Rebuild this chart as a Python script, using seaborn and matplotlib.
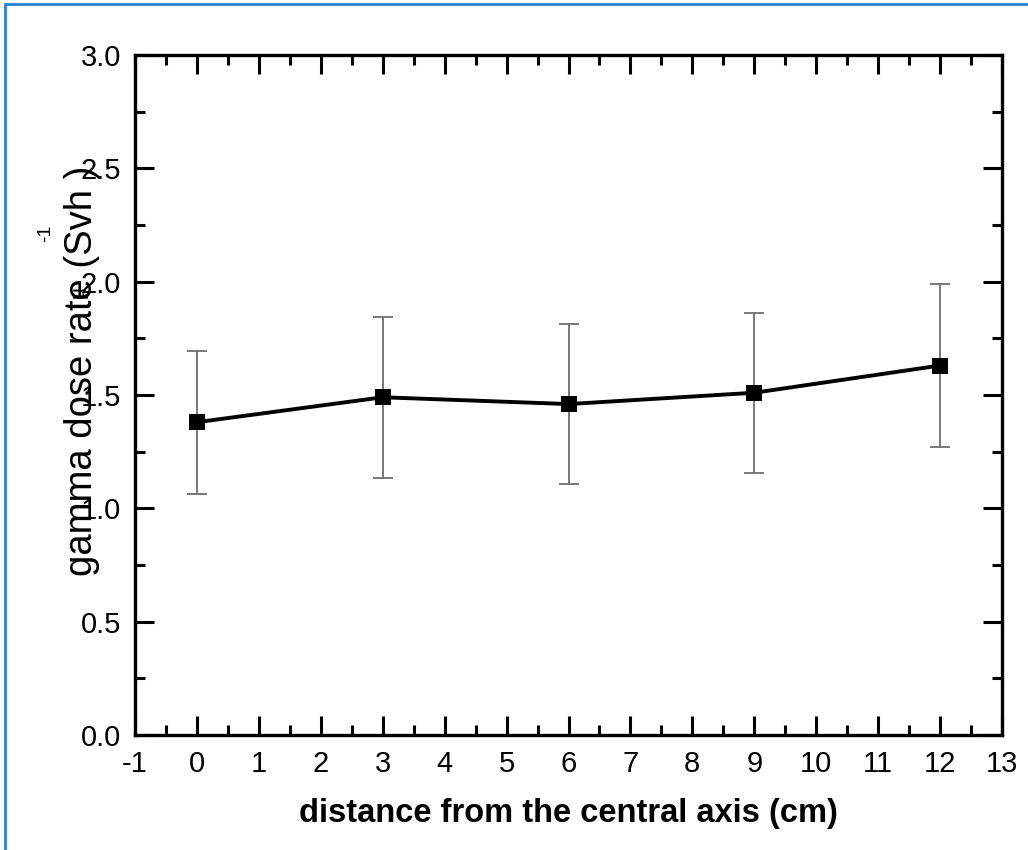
import matplotlib
matplotlib.use("Agg")
import matplotlib.pyplot as plt
from matplotlib.patches import Rectangle
from matplotlib.ticker import MultipleLocator
import seaborn as sns
import pandas as pd

# Measured gamma dose rate along the distance from the central axis
distance_cm = [0, 3, 6, 9, 12]
dose_rate = [1.38, 1.49, 1.46, 1.51, 1.63]
dose_err = [0.315, 0.355, 0.352, 0.353, 0.36]

x_ticks = list(range(-1, 14))
y_ticks = [0.0, 0.5, 1.0, 1.5, 2.0, 2.5, 3.0]

sns.set_theme(style="ticks")
plt.rcParams["font.family"] = ["Liberation Sans", "DejaVu Sans"]
plt.rcParams["text.color"] = "black"
plt.rcParams["axes.labelcolor"] = "black"

df = pd.DataFrame({"distance": distance_cm, "dose": dose_rate, "err": dose_err})

fig = plt.figure(figsize=(10.28, 8.5), dpi=100)
ax = fig.add_axes([135 / 1028, 115 / 850, 867 / 1028, 680 / 850])

ax.errorbar(df["distance"], df["dose"], yerr=df["err"], fmt="none",
            ecolor="#6e6e6e", elinewidth=1.3, capsize=7, capthick=1.3, zorder=2)
sns.lineplot(data=df, x="distance", y="dose", ax=ax, color="black",
             linewidth=2.8, marker="s", markersize=11, markeredgewidth=0,
             markerfacecolor="black", zorder=3)

ax.set_xlim(-1, 13)
ax.set_ylim(0, 3.0)
ax.set_xticks(x_ticks)
ax.set_xticklabels([str(t) for t in x_ticks])
ax.set_yticks(y_ticks)
ax.set_yticklabels([f"{t:.1f}" for t in y_ticks])
ax.xaxis.set_minor_locator(MultipleLocator(0.5))
ax.yaxis.set_minor_locator(MultipleLocator(0.25))

ax.tick_params(which="both", direction="in", top=True, right=True,
               colors="black", labelcolor="black", labelsize=21, width=2.2)
ax.tick_params(which="major", length=14)
ax.tick_params(axis="x", which="major", pad=11)
ax.tick_params(axis="y", which="major", pad=10)
ax.tick_params(which="minor", length=7)
for side in ["left", "right", "top", "bottom"]:
    ax.spines[side].set_visible(True)
    ax.spines[side].set_linewidth(2.4)
    ax.spines[side].set_color("black")

ax.set_xlabel("distance from the central axis (cm)", fontsize=23.5,
              fontweight="bold", color="black", labelpad=14)
ax.set_ylabel("")

# y-axis title with its unit pieces laid out as printed
fig.text(82 / 1028, 1 - 371 / 850, "gamma dose rate (Svh )", rotation=90,
         fontsize=27.5, ha="center", va="center", color="black")
fig.text(78 / 1028, 1 - 292 / 850, "\u03bc", rotation=90, fontsize=15,
         ha="center", va="center", color="black")
fig.text(46 / 1028, 1 - 233 / 850, "-1", rotation=90, fontsize=14,
         ha="center", va="center", color="black")

fig.patches.append(Rectangle((5 / 1028, -0.05), 1.1, 1 - 4 / 850 + 0.05,
                             transform=fig.transFigure, fill=False,
                             edgecolor="#2a7fd4", linewidth=2))

fig.savefig("out.png", dpi=100)
